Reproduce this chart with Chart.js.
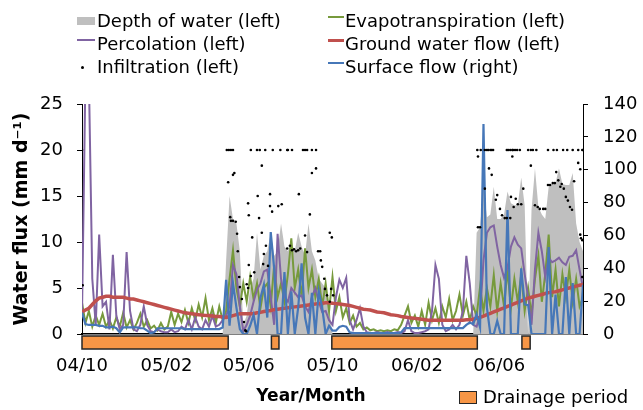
<!DOCTYPE html>
<html>
<head>
<meta charset="utf-8">
<script src="https://cdn.jsdelivr.net/npm/chart.js@4.4.0/dist/chart.umd.min.js"></script>
<style>
  body { margin: 0; background: #fff; }
  #wrap { position: relative; width: 643px; height: 410px; font-family: "DejaVu Sans", sans-serif; color: #000; }
  #wrap canvas { position: absolute; left: 0; top: 0; }
  .lt { position: absolute; font-size: 18px; line-height: 22px; white-space: nowrap; }
  .mk { position: absolute; }
  .ttl { position: absolute; font-size: 17px; font-weight: bold; line-height: 22px; white-space: nowrap; transform: translateX(-50%); }
</style>
</head>
<body>
<div id="wrap">
  <canvas id="waterChart" width="643" height="410"></canvas>
  <div class="ttl" style="left:311px;top:384px">Year/Month</div>
  <div class="mk" style="left:459px;top:391px;width:16px;height:11px;background:#f79646;border:1.5px solid #262626"></div>
  <div class="lt" style="left:483px;top:386px">Drainage period</div>
</div>
<script>
// one sample every 5 days, starting 2004-10-01
const STEP = 5;

// x axis labels (day offset from 2004-10-01)
const tickDays = [0, 123, 243, 365, 488, 608];
const tickLabels = ['04/10', '05/02', '05/06', '05/10', '06/02', '06/06'];

// drainage periods (day offsets)
const drainStart = [0, 276, 364, 641];
const drainEnd = [213, 287, 576, 653];

// mm/d, left axis
const depthOfWater = [
  0, 0, 0, 0, 0, 0, 0, 0, 0, 0,
  0, 0, 0, 0, 0, 0, 0, 0, 0, 0,
  0, 0, 0, 0, 0, 0, 0, 0, 0, 0,
  0, 0, 0, 0, 0, 0, 0, 0, 0, 0,
  0, 0, 8, 15, 12.5, 12, 9, 1, 2, 5,
  6, 11, 7, 8.5, 9, 11, 8.5, 9, 12, 9.5,
  9, 10, 9, 11, 9.5, 8.5, 12, 9, 8, 6,
  5.5, 5, 3, 0, 0, 0, 0, 0, 0, 0,
  0, 0, 0, 0, 0, 0, 0, 0, 0, 0,
  0, 0, 0, 0, 0, 0, 0, 0, 0, 0,
  0, 0, 0, 0, 0, 0, 0, 0, 0, 0,
  0, 0, 0, 0, 0, 11, 11.6, 16, 12.7, 13,
  16, 12.5, 12.5, 13, 15.5, 14.2, 14, 14, 17, 14,
  0, 13.5, 18, 13.8, 13, 12.5, 16, 16.4, 16.4, 18,
  16.3, 16.2, 16.2, 17.5, 12, 10, 9
];

const evapotranspiration = [
  3.4, 1.2, 2.5, 0.8, 2.0, 1.0, 2.2, 0.8, 1.5, 0.6,
  1.8, 0.8, 2.3, 0.7, 1.5, 0.5, 1.2, 2.2, 0.8, 1.5,
  0.6, 0.9, 0.4, 1.2, 0.5, 0.8, 2.4, 1.0, 2.2, 1.3,
  2.6, 1.2, 2.8, 1.5, 3.2, 1.8, 3.9, 1.5, 2.8, 1.2,
  3.0, 1.5, 2.5, 6.0, 9.1, 5.0, 3.0, 5.5, 3.5, 6.2,
  3.8, 5.5, 2.8, 5.0, 5.5, 3.0, 7.5, 4.0, 5.5, 3.5,
  6.5, 10.4, 5.0, 7.0, 4.0, 9.3, 5.0, 7.0, 4.0, 6.0,
  3.0, 5.5, 2.5, 6.2, 2.5, 4.0, 1.8, 2.8, 1.2, 2.0,
  0.8, 1.2, 0.5, 0.7, 0.4, 0.5, 0.3, 0.4, 0.3, 0.4,
  0.3, 0.5, 0.4, 1.0, 2.0, 3.0, 1.2, 2.0, 0.8, 2.5,
  1.0, 3.4, 1.5, 2.8, 1.2, 3.0, 1.8, 3.8, 1.5, 2.5,
  4.3, 2.0, 3.5, 1.5, 3.0, 2.0, 5.1, 2.5, 5.0, 3.0,
  6.4, 2.5, 5.5, 3.0, 7.0, 2.8, 6.0, 3.5, 6.5, 2.5,
  5.0, 2.0, 6.0, 8.5, 3.5, 6.5, 10.8, 4.0, 7.0, 3.0,
  6.5, 4.0, 7.0, 3.5, 6.0, 3.0, 4.0
];

const percolation = [
  2.0, 28, 28, 6, 1.0, 10.8, 3.0, 3.5, 0.5, 8.6,
  2.0, 0.5, 1.0, 8.9, 2.5, 0.5, 0.3, 1.0, 3.0, 1.0,
  0.3, 0.2, 0.5, 0.3, 0.2, 0.2, 0.5, 0.2, 0.3, 0.8,
  0.5, 1.5, 0.5, 1.8, 0.8, 0.5, 1.5, 0.8, 2.0, 0.8,
  1.0, 1.5, 2.0, 3.0, 7.5, 6.5, 3.0, 0.3, 1.0, 2.0,
  3.5, 4.8, 5.5, 6.8, 7.0, 4.0, 1.0, 10.9, 6.0, 4.0,
  3.5, 5.0, 4.5, 4.0, 4.2, 3.0, 2.4, 4.0, 5.0, 3.5,
  2.4, 2.5, 1.5, 1.0, 4.0, 5.9, 5.0, 6.1, 1.5, 0.5,
  1.5, 2.8, 0.8, 0.2, 0.1, 0.1, 0.2, 0.1, 0.1, 0.2,
  0.1, 0.1, 0.2, 0.1, 0.3, 1.5, 0.3, 0.1, 0.1, 0.2,
  0.3, 0.5, 2.5, 7.5, 6.0, 1.0, 0.3, 0.5, 1.0, 0.5,
  1.0, 2.5, 8.5, 5.5, 1.0, 0.8, 2.0, 8.0, 11.0, 11.6,
  11.8, 9.5, 7.5, 6.1, 7.2, 9.5, 10.5, 9.7, 9.3, 6.5,
  4.0, 1.0, 7.0, 11.0, 9.0, 6.2, 8.3, 7.8, 8.0, 8.3,
  7.8, 7.5, 8.4, 8.5, 9.1, 7.0, 5.0
];

const groundWaterFlow = [
  2.4, 2.6, 2.8, 3.2, 3.6, 3.9, 4.0, 4.1, 4.1, 4.0,
  4.0, 4.0, 4.0, 3.9, 3.8, 3.8, 3.7, 3.6, 3.5, 3.4,
  3.3, 3.2, 3.1, 3.0, 2.9, 2.8, 2.7, 2.6, 2.5, 2.4,
  2.3, 2.25, 2.2, 2.15, 2.1, 2.05, 2.0, 2.0, 1.95, 1.9,
  1.9, 1.85, 1.8, 1.9, 2.0, 2.1, 2.2, 2.2, 2.2, 2.2,
  2.2, 2.3, 2.35, 2.45, 2.5, 2.55, 2.65, 2.7, 2.75, 2.8,
  2.85, 2.9, 2.95, 3.0, 3.05, 3.1, 3.15, 3.2, 3.25, 3.3,
  3.35, 3.4, 3.4, 3.35, 3.3, 3.25, 3.2, 3.15, 3.1, 3.0,
  2.9, 2.8, 2.7, 2.65, 2.6, 2.5, 2.4, 2.35, 2.3, 2.2,
  2.1, 2.05, 2.0, 1.9, 1.85, 1.8, 1.75, 1.7, 1.65, 1.6,
  1.55, 1.5, 1.5, 1.5, 1.5, 1.5, 1.5, 1.5, 1.5, 1.5,
  1.5, 1.5, 1.55, 1.55, 1.6, 1.7, 1.8, 1.95, 2.1, 2.25,
  2.4, 2.55, 2.7, 2.85, 3.0, 3.15, 3.3, 3.45, 3.6, 3.75,
  3.9, 4.0, 4.1, 4.2, 4.3, 4.4, 4.5, 4.55, 4.6, 4.7,
  4.8, 4.9, 5.0, 5.1, 5.2, 5.3, 5.4
];

// right axis
const surfaceFlow = [
  13, 6, 5.5, 5.5, 5.5, 5, 5, 4, 4, 4.5,
  3.5, 1, 4, 4, 4, 4, 4, 3.5, 3.5, 2,
  0.5, 1, 3.5, 3.5, 3.5, 3.5, 3.5, 3.5, 3.5, 3.5,
  3, 3, 3, 3, 3, 3, 3, 3, 3, 3,
  3, 4, 33, 5, 31, 16, 3, 0, 0, 5,
  11.6, 0, 22, 30, 10, 62, 40, 0, 0, 37.7,
  0, 26, 0, 16, 43, 10, 0, 25, 0, 26,
  16, 0, 5, 2, 2, 4.3, 5, 4.5, 1, 0.5,
  0.5, 0.5, 0.5, 0.5, 0.5, 0.5, 0.5, 0.5, 0.5, 0.5,
  0.5, 0.5, 0.5, 1, 3.6, 3.6, 3.6, 3.6, 3.6, 3.6,
  3.6, 3.6, 3.6, 3.6, 3.6, 3.6, 3.6, 3.6, 3.6, 3.6,
  3.6, 3.6, 5.5, 7, 6, 12, 4, 127.8, 16, 0,
  0, 8, 0, 0, 75.5, 0, 0, 0, 40, 18,
  17.6, 0, 0, 0, 0, 0, 53, 0, 24, 0,
  0, 34.7, 0, 31, 0, 0, 30
];

// infiltration dots: day offset + value
const infilDays = [
  0, 1,
  211, 214, 217, 220, 213, 220, 222, 216, 217, 220, 224, 226, 227, 229, 230, 233, 236, 238,
  239, 240, 242, 243, 242, 243, 246, 248, 251, 246, 255, 259, 267, 256, 258, 262, 262, 264,
  265, 268, 271, 274, 274, 277, 278, 286, 289, 291, 299, 300, 306, 299, 303, 306, 309, 312,
  315, 318, 316, 322, 325, 328, 325, 328, 332, 335, 335, 341, 341, 344, 347, 348, 350, 353,
  354, 357, 361, 364, 363, 366, 361,
  576, 577, 577, 580, 581, 587, 590, 592, 595, 597, 599, 587, 593, 597, 603, 605, 609, 612,
  616, 619, 624, 625, 627, 629, 632, 635, 640, 643, 619, 621, 624, 627, 628, 631, 634, 638,
  650, 654, 657, 662, 654, 660, 664, 667, 672, 675, 679, 679, 682, 686, 689, 691, 694, 687,
  692, 697, 699, 701, 702, 705, 707, 708, 711, 714, 715, 717, 723, 723, 726, 726, 727, 729,
  729, 729
];
const infilVals = [
  20, 5.3,
  20, 20, 20, 20, 16.5, 17.3, 17.5, 12.7, 12.3, 12.3, 12.2, 10.9, 9, 6.2, 5.1, 3.8, 1.3, 0.4,
  0.3, 5.4, 5, 7.5, 14.2, 12.9, 6.3, 10.5, 6.7, 20, 20, 20, 20, 15, 12.6, 11, 18.3, 7.6,
  8.7, 9.6, 7.4, 15.2, 13.9, 13.3, 20, 13.9, 20, 14.1, 20, 20, 20, 9.3, 9.6, 9.1, 9.2, 9,
  9.1, 9.3, 15.2, 20, 20, 20, 10.7, 8.9, 13, 17.5, 20, 18, 20, 9, 9, 8, 7.3, 6,
  4.9, 4.2, 11, 10.5, 4.9, 4.2, 3.5,
  20, 11.6, 19.3, 11.6, 20, 20, 20, 20, 20, 20, 20, 15.8, 18, 17.3, 14.6, 15.1, 13.6, 12.9,
  12.6, 12.6, 12.6, 14.9, 19.3, 13.8, 14.7, 14.1, 14.1, 15.8, 20, 20, 20, 20, 20, 20, 20, 20,
  20, 20, 20, 20, 18.3, 14, 13.8, 13.6, 13.6, 13.6, 20, 16.2, 16.2, 16.4, 16.4, 17.6, 16.7, 20,
  20, 16, 16.3, 20, 15.8, 14.9, 20, 14.5, 13.8, 13.5, 20, 16.6, 18.6, 20, 17.9, 10.8, 10.4, 10.2,
  20, 6.2
];

const COLORS = {
  depth: '#bfbfbf',
  evap: '#779a3c',
  perc: '#8064a2',
  ground: '#c0504d',
  surface: '#4677b8',
  infil: '#000000'
};

const series = (vals) => vals.map((v, i) => ({ x: i * STEP, y: v }));

// drainage bars under the x axis
const drainagePlugin = {
  id: 'drainage',
  afterDraw(chart) {
    const { ctx, chartArea, scales } = chart;
    ctx.save();
    ctx.fillStyle = '#f79646';
    ctx.strokeStyle = '#262626';
    ctx.lineWidth = 1.5;
    drainStart.forEach((s, i) => {
      const x1 = scales.x.getPixelForValue(s);
      const x2 = scales.x.getPixelForValue(drainEnd[i]);
      ctx.fillRect(x1, chartArea.bottom + 2, x2 - x1, 13);
      ctx.strokeRect(x1, chartArea.bottom + 2, x2 - x1, 13);
    });
    ctx.restore();
  }
};

Chart.defaults.font.family = '"DejaVu Sans", sans-serif';
Chart.defaults.font.size = 18;
Chart.defaults.color = '#000';

const tickFont = { size: 18 };

new Chart(document.getElementById('waterChart'), {
  type: 'line',
  data: {
    datasets: [
      {
        label: 'Depth of water (left)',
        data: series(depthOfWater),
        yAxisID: 'y',
        borderWidth: 0,
        backgroundColor: COLORS.depth,
        fill: 'origin',
        order: 10
      },
      {
        label: 'Evapotranspiration (left)',
        data: series(evapotranspiration),
        yAxisID: 'y',
        borderColor: COLORS.evap,
        borderWidth: 2,
        order: 9
      },
      {
        label: 'Percolation (left)',
        data: series(percolation),
        yAxisID: 'y',
        borderColor: COLORS.perc,
        borderWidth: 2,
        order: 8
      },
      {
        label: 'Ground water flow (left)',
        data: series(groundWaterFlow),
        yAxisID: 'y',
        borderColor: COLORS.ground,
        borderWidth: 3.5,
        order: 7
      },
      {
        label: 'Surface flow (right)',
        data: series(surfaceFlow),
        yAxisID: 'y2',
        borderColor: COLORS.surface,
        borderWidth: 2.2,
        order: 6
      },
      {
        label: 'Infiltration (left)',
        data: infilDays.map((d, i) => ({ x: d, y: infilVals[i] })),
        yAxisID: 'y',
        showLine: false,
        pointRadius: 1.3,
        pointBorderWidth: 0,
        pointBackgroundColor: COLORS.infil,
        order: 1
      }
    ]
  },
  options: {
    responsive: false,
    animation: false,
    layout: { padding: { top: 104, left: 0, right: 0, bottom: 0 } },
    elements: {
      point: { radius: 0 },
      line: { tension: 0 }
    },
    plugins: {
      legend: { display: false },
      tooltip: { enabled: false }
    },
    scales: {
      x: {
        type: 'linear',
        min: 0,
        max: 730,
        afterBuildTicks: (scale) => {
          scale.ticks = tickDays.map(d => ({ value: d }));
        },
        afterFit: (scale) => { scale.height = 76; },
        grid: { display: false, drawTicks: false },
        border: { display: true, color: '#000', width: 1.5 },
        ticks: {
          font: tickFont,
          padding: 22,
          maxRotation: 0,
          autoSkip: false,
          callback: (value, index) => tickLabels[index]
        }
      },
      y: {
        position: 'left',
        min: 0,
        max: 25,
        afterFit: (scale) => { scale.width = 82; },
        ticks: { stepSize: 5, padding: 14, font: tickFont },
        grid: { drawOnChartArea: false, tickLength: 5, color: '#000' },
        border: { color: '#000' },
        title: {
          display: true,
          text: 'Water flux (mm d⁻¹)',
          font: { size: 19, weight: 'bold' },
          padding: { top: 11, bottom: 0 }
        }
      },
      y2: {
        position: 'right',
        min: 0,
        max: 140,
        afterFit: (scale) => { scale.width = 60; },
        ticks: { stepSize: 20, padding: 15, font: tickFont },
        grid: { drawOnChartArea: false, tickLength: 5, color: '#000' },
        border: { color: '#000' }
      }
    }
  },
  plugins: [drainagePlugin]
});

// legend in two columns above the plot
const legendItems = [
  { label: 'Depth of water (left)', kind: 'box', color: COLORS.depth, col: 0, row: 0 },
  { label: 'Evapotranspiration (left)', kind: 'line', color: COLORS.evap, col: 1, row: 0 },
  { label: 'Percolation (left)', kind: 'line', color: COLORS.perc, col: 0, row: 1 },
  { label: 'Ground water flow (left)', kind: 'line', color: COLORS.ground, col: 1, row: 1 },
  { label: 'Infiltration (left)', kind: 'dot', color: COLORS.infil, col: 0, row: 2 },
  { label: 'Surface flow (right)', kind: 'line', color: COLORS.surface, col: 1, row: 2 }
];
const colMarkX = [77, 328];
const colTextX = [97, 345];
const rowY = [21, 44, 67];
const wrap = document.getElementById('wrap');

legendItems.forEach(item => {
  const cy = rowY[item.row];
  const mk = document.createElement('div');
  mk.className = 'mk';
  mk.style.background = item.color;
  if (item.kind === 'box') {
    Object.assign(mk.style, { left: colMarkX[item.col] + 'px', top: (cy - 4) + 'px', width: '18px', height: '8px' });
  } else if (item.kind === 'dot') {
    Object.assign(mk.style, { left: (colMarkX[item.col] + 4) + 'px', top: (cy - 1) + 'px', width: '3px', height: '3px', borderRadius: '50%' });
  } else {
    const w = item.col === 0 ? 18 : 16;
    const h = item.color === COLORS.ground ? 3 : 2;
    Object.assign(mk.style, { left: colMarkX[item.col] + 'px', top: (cy - 5) + 'px', width: w + 'px', height: h + 'px' });
  }
  wrap.appendChild(mk);

  const t = document.createElement('div');
  t.className = 'lt';
  t.textContent = item.label;
  t.style.left = colTextX[item.col] + 'px';
  t.style.top = (cy - 11) + 'px';
  wrap.appendChild(t);
});
</script>
</body>
</html>
